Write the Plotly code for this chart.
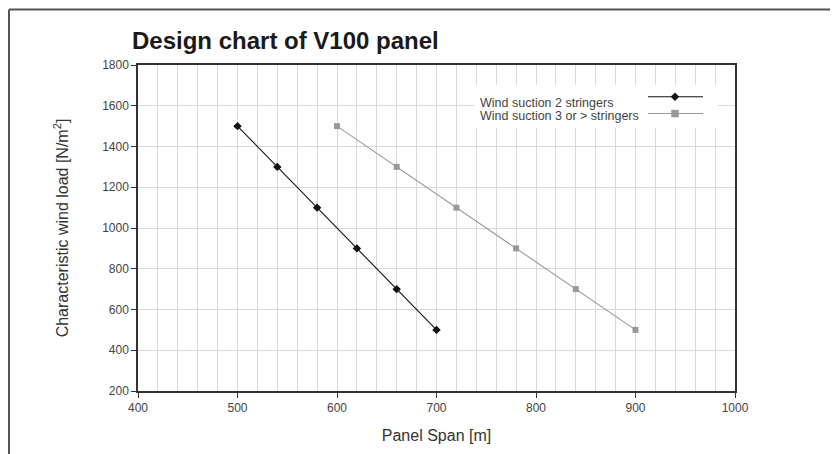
import plotly.graph_objects as go

# panel span [m] and characteristic wind load [N/m2]
span_2 = [500, 540, 580, 620, 660, 700]
load_2 = [1500, 1300, 1100, 900, 700, 500]
span_3 = [600, 660, 720, 780, 840, 900]
load_3 = [1500, 1300, 1100, 900, 700, 500]

names = ["Wind suction 2 stringers", "Wind suction 3 or > stringers"]
colors = ["#111111", "#999999"]
symbols = ["diamond", "square"]

# the page adds an 8px body margin, so the figure is a bit smaller
OFF = 8
W, H = 838 - OFF, 454 - OFF
L, R, T, B = 138 - OFF, 103, 65 - OFF, 60
pw, ph = W - L - R, H - T - B


# page pixel -> paper coords
def px(x):
    return (x - OFF - L) / pw


def py(y):
    return (H - B - (y - OFF)) / ph


fig = go.Figure()
fig.add_trace(go.Scatter(x=span_2, y=load_2, mode="lines+markers", name=names[0],
                         line=dict(color=colors[0], width=1.1),
                         marker=dict(symbol=symbols[0], size=6.5, color=colors[0])))
fig.add_trace(go.Scatter(x=span_3, y=load_3, mode="lines+markers", name=names[1],
                         line=dict(color=colors[1], width=1.1),
                         marker=dict(symbol=symbols[1], size=6, color=colors[1])))

shapes = []
# outer frame (top and left only, like the cropped page)
shapes.append(dict(type="line", xref="paper", yref="paper", x0=px(9), x1=px(860),
                   y0=py(9), y1=py(9), line=dict(color="#555555", width=2)))
shapes.append(dict(type="line", xref="paper", yref="paper", x0=px(9), x1=px(9),
                   y0=py(9), y1=py(470), line=dict(color="#555555", width=2)))
# legend box
shapes.append(dict(type="rect", xref="paper", yref="paper", x0=px(474), x1=px(718),
                   y0=py(128), y1=py(85), fillcolor="white", line=dict(width=0),
                   layer="above"))
annotations = []
for i, (ly, ty) in enumerate([(97, 103), (114, 116)]):
    shapes.append(dict(type="line", xref="paper", yref="paper", x0=px(648), x1=px(703),
                       y0=py(ly), y1=py(ly), line=dict(color=colors[i], width=1.1),
                       layer="above"))
    cx, cy = 675, ly
    if symbols[i] == "diamond":
        d = 4
        path = "M {} {} L {} {} L {} {} L {} {} Z".format(
            px(cx - d), py(cy), px(cx), py(cy - d), px(cx + d), py(cy), px(cx), py(cy + d))
    else:
        d = 3.5
        path = "M {} {} L {} {} L {} {} L {} {} Z".format(
            px(cx - d), py(cy - d), px(cx + d), py(cy - d), px(cx + d), py(cy + d),
            px(cx - d), py(cy + d))
    shapes.append(dict(type="path", xref="paper", yref="paper", path=path,
                       fillcolor=colors[i], line=dict(color=colors[i], width=0.5),
                       layer="above"))
    annotations.append(dict(text=names[i], xref="paper", yref="paper", x=px(478), y=py(ty),
                            xanchor="left", yanchor="middle", showarrow=False,
                            font=dict(size=12.5, color="#444444")))

# title
annotations.append(dict(text="<b>Design chart of V100 panel</b>", xref="paper", yref="paper",
                        x=px(130), y=py(40), xanchor="left", yanchor="middle",
                        showarrow=False, font=dict(size=24, color="#1a1a1a")))

fig.update_layout(
    width=W, height=H,
    margin=dict(l=L, r=R, t=T, b=B),
    paper_bgcolor="white", plot_bgcolor="white",
    showlegend=False,
    font=dict(family="Liberation Sans, Arial, sans-serif", color="#444444"),
    shapes=shapes, annotations=annotations,
)
fig.update_xaxes(
    range=[400, 1000], dtick=100, tick0=400,
    showgrid=True, gridcolor="#d9d9d9", gridwidth=1,
    minor=dict(dtick=20, showgrid=True, gridcolor="#d9d9d9", gridwidth=1),
    showline=True, linecolor="#333333", linewidth=1.5, mirror=True,
    ticks="outside", ticklen=5, tickcolor="#333333",
    tickfont=dict(size=12, color="#444444"),
    title=dict(text="Panel Span [m]", font=dict(size=16, color="#333333"), standoff=16),
    zeroline=False,
)
fig.update_yaxes(
    range=[200, 1800], dtick=200, tick0=200,
    showgrid=True, gridcolor="#d9d9d9", gridwidth=1,
    showline=True, linecolor="#333333", linewidth=1.5, mirror=True,
    ticks="outside", ticklen=5, tickcolor="#333333",
    tickfont=dict(size=12, color="#444444"),
    title=dict(text="Characteristic wind load [N/m<sup>2</sup>]",
               font=dict(size=16, color="#333333"), standoff=30),
    zeroline=False,
)

fig.write_html("out.html")
